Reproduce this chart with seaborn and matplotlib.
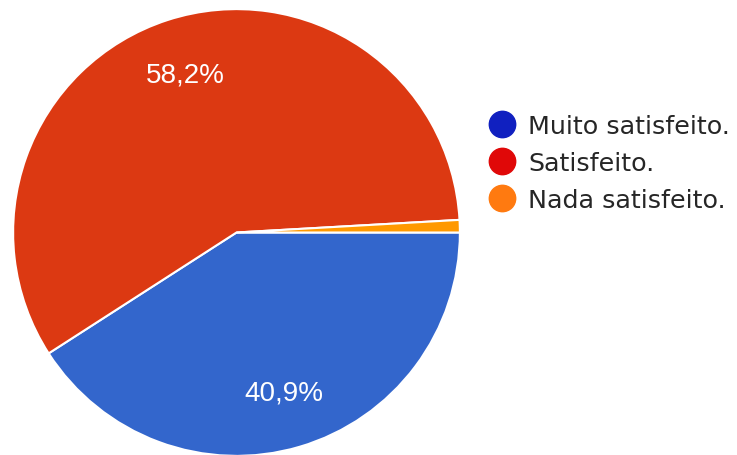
import matplotlib.pyplot as plt
import seaborn as sns
from matplotlib.lines import Line2D

# --- Satisfaction survey pie (Google Forms style) ---

categories = ["Muito satisfeito.", "Satisfeito.", "Nada satisfeito."]
values = [40.9, 58.2, 0.9]
slice_colors = ["#3366cc", "#dc3912", "#ff9900"]
legend_colors = ["#1020c0", "#e00808", "#ff7a10"]

sns.set_theme(style="white")
plt.rcParams['font.family'] = ['Liberation Sans', 'DejaVu Sans']

fig = plt.figure(figsize=(7.37, 4.56), dpi=100)
ax = fig.add_axes([12 / 737, -2 / 456, 449 / 737, 449 / 456])


def fmt(p):
    if p < 5:
        return ''
    return f"{p:.1f}%".replace('.', ',')


wedges, texts, autotexts = ax.pie(
    values, colors=slice_colors, startangle=0, counterclock=False,
    autopct=fmt, pctdistance=0.745, radius=1,
    wedgeprops=dict(edgecolor='white', linewidth=1.5),
    textprops=dict(color='white', fontsize=20))
ax.set(aspect='equal', xlim=(-1.005, 1.005), ylim=(-1.005, 1.005))

handles = [Line2D([], [], marker='o', linestyle='', markersize=19,
                  markerfacecolor=c, markeredgecolor=c) for c in legend_colors]
leg = fig.legend(handles, categories, loc='center left', bbox_to_anchor=(489 / 737, 1 - 164 / 456),
                 frameon=False, handletextpad=0.55, labelspacing=0.5,
                 handlelength=1.0, borderpad=0, borderaxespad=0,
                 prop=dict(family='DejaVu Sans', size=18.3))
for t in leg.get_texts():
    t.set_color('#262626')

fig.savefig('out.png', dpi=100)
